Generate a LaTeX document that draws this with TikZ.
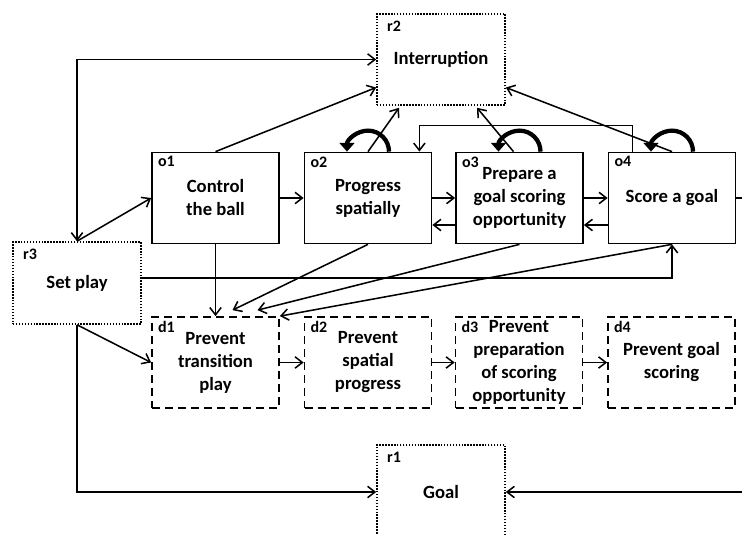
\documentclass[tikz,border=0pt]{standalone}
\usepackage{fontspec}
\setmainfont{Carlito}
\usetikzlibrary{arrows.meta,calc}

\tikzset{
  every node/.style={font=\bfseries\fontsize{14}{17.25}\selectfont, align=center, inner sep=0pt},
  tag/.style={font=\bfseries\fontsize{12}{14}\selectfont},
  tagged/.style={label={[tag,anchor=north west,xshift=5pt,yshift=-3.5pt]north west:#1}},
  rtagged/.style={label={[tag,anchor=north west,xshift=8pt,yshift=-6pt]north west:#1}},
  obox/.style={draw, line width=1.3pt, minimum width=95.25pt, minimum height=68.25pt},
  dbox/.style={obox, dash pattern=on 6pt off 3.75pt},
  rbox/.style={draw, line width=1.2pt, dash pattern=on 1.1pt off 1.1pt, minimum width=96pt},
  flow/.style={->, line width=1.15pt},
  selfloop/.style={line width=3.2pt, -{Triangle[length=6.5pt,width=11pt]}}
}

\begin{document}
\begin{tikzpicture}[x=0.75pt,y=0.75pt,>={Straight Barb[length=5.5pt,width=8.5pt]}]
\useasboundingbox (0,0) rectangle (742,535);
\clip (0,0) rectangle (742,535);

\def\yo{337}
\def\yd{172.5}

% offensive phases
\node[obox, tagged=o1] (o1) at (215.5,\yo) {Control\\the ball};
\node[obox, tagged=o2] (o2) at (368,\yo) {Progress\\spatially};
\node[obox, tagged=o3] (o3) at (519.5,\yo) {Prepare a\\goal scoring\\opportunity};
\node[obox, tagged=o4] (o4) at (672,\yo) {Score a goal};

% defensive phases
\node[dbox, tagged=d1] (d1) at (215.5,\yd) {Prevent\\transition\\play};
\node[dbox, tagged=d2] (d2) at (368,\yd) {Prevent\\spatial\\progress};
\node[dbox, tagged=d3] (d3) at (519,\yd) {Prevent\\preparation\\of scoring\\opportunity};
\node[dbox, tagged=d4] (d4) at (671.5,\yd) {Prevent goal\\scoring};

% restarts
\node[rbox, minimum height=68.25pt, rtagged=r2] (r2) at (441,475.5) {Interruption};
\node[rbox, minimum height=61.5pt, rtagged=r3] (r3) at (77,252) {Set play};
\node[rbox, minimum height=70.5pt, rtagged=r1] (r1) at (441,43) {Goal};

% from set play
\draw[flow, <->] (r3.north) |- (r2.west);
\draw[flow] (r3.north) -- (o1.west);
\draw[flow] (r3.south) -- (d1.west);
\draw[flow] (r3.south) |- (r1.west);
\draw[flow] ($(r3.east)+(0,5)$) -| (o4.south);

% along the offensive row
\draw[flow] (o1) -- (o2);
\draw[flow] (o2) -- (o3);
\draw[flow] (o3) -- (o4);
\draw[flow] ($(o3.west)+(0,-27)$) -- ($(o2.east)+(0,-27)$);
\draw[flow] ($(o4.west)+(0,-27)$) -- ($(o3.east)+(0,-27)$);
\draw[flow] ($(o4.north west)+(25,0)$) -- ++(0,26) -| ($(o2.north east)+(-13,0)$);

% losing the ball
\draw[flow] (o1) -- (d1);
\draw[flow] (o2.south) -- ($(d1.north)+(17,6)$);
\draw[flow] (o3.south) -- ($(d1.north)+(42,6)$);
\draw[flow] (o4.south) -- (d1.north east);

% along the defensive row
\draw[flow] (d1) -- (d2);
\draw[flow] (d2) -- (d3);
\draw[flow] (d3) -- (d4);

% to interruption
\draw[flow] (o1.north) -- ($(r2.west)+(0,-28)$);
\draw[flow] (o2.north) -- ($(r2.south)+(-42,-2)$);
\draw[flow] ($(o3.north)+(-6,0)$) -- ($(r2.south)+(36,-2)$);
\draw[flow] (o4.north) -- ($(r2.east)+(0,-28)$);

% scoring
\draw[flow] (o4.east) -- ++(20,0) |- (r1.east);

% staying in the phase
\foreach \n in {o2,o3,o4}
  \draw[selfloop] ($(\n.north)+(21,0)$) arc[start angle=0, end angle=180, radius=21];

\end{tikzpicture}
\end{document}
